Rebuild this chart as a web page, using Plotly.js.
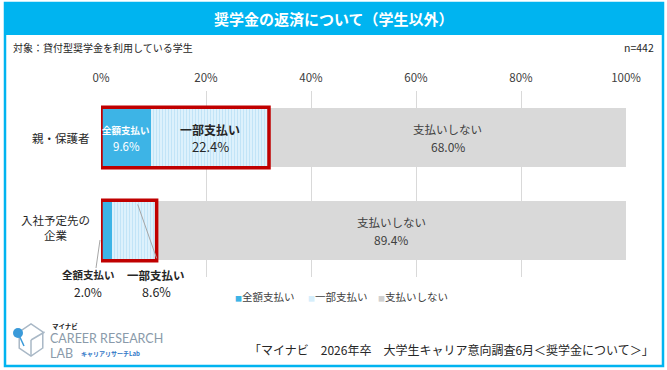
<!DOCTYPE html>
<html>
<head>
<meta charset="utf-8">
<script src="https://cdn.plot.ly/plotly-3.0.1.min.js"></script>
<style>
html,body{margin:0;padding:0;background:#fff;}
#chart{width:667px;height:370px;}
</style>
</head>
<body>
<div id="chart"></div>
<script>
// ---- data ----
const categories = ["親・保護者", "入社予定先の<br>企業"];
const seriesNames = ["全額支払い", "一部支払い", "支払いしない"];
const fullPay = [9.6, 2.0];
const partialPay = [22.4, 8.6];
const noPay = [68.0, 89.4];
const tickVals = [0, 20, 40, 60, 80, 100];
const tickLabels = ["0%", "20%", "40%", "60%", "80%", "100%"];
const titleText = "奨学金の返済について（学生以外）";
const subtitleText = "対象：貸付型奨学金を利用している学生";
const nText = "n=442";
const sourceText = "「マイナビ　2026年卒　大学生キャリア意向調査6月＜奨学金について＞」";

// ---- layout geometry ----
const W = 667, H = 370;
const M = {l: 101, r: 41, t: 91, b: 93};
const PW = W - M.l - M.r, PH = H - M.t - M.b;
const px = v => (v - M.l) / PW;          // pixel -> paper x
const py = v => (H - M.b - v) / PH;      // pixel -> paper y
const FONT = "'Noto Sans CJK JP', 'Noto Sans', sans-serif";
const BAR_W = 0.63;
const yIdx = categories.map((c, i) => i);

const C_FULL = "#3DB4E6", C_PART = "#DDF1FC", C_PART_LINE = "#B9E0F5", C_NO = "#D9D9D9";
const CYAN = "#00B4F0";

const traces = [
  {type: "bar", orientation: "h", name: seriesNames[0], x: fullPay, y: yIdx, width: BAR_W,
   marker: {color: C_FULL, line: {width: 0}}, hoverinfo: "x+name", showlegend: false},
  {type: "bar", orientation: "h", name: seriesNames[1], x: partialPay, y: yIdx, width: BAR_W,
   marker: {color: C_PART, line: {width: 0},
            pattern: {shape: "|", bgcolor: C_PART, fgcolor: C_PART_LINE, size: 3, solidity: 0.25, fillmode: "replace"}},
   hoverinfo: "x+name", showlegend: false},
  {type: "bar", orientation: "h", name: seriesNames[2], x: noPay, y: yIdx, width: BAR_W,
   marker: {color: C_NO, line: {width: 0}}, hoverinfo: "x+name", showlegend: false}
];

const annotations = [];
const shapes = [];

// frame and title band
shapes.push({type: "rect", xref: "paper", yref: "paper", x0: px(5), x1: px(663), y0: py(3), y1: py(366),
  line: {color: CYAN, width: 2.5}, fillcolor: "rgba(0,0,0,0)", layer: "below"});
shapes.push({type: "rect", xref: "paper", yref: "paper", x0: px(5), x1: px(663), y0: py(3), y1: py(35),
  line: {width: 0}, fillcolor: CYAN, layer: "below"});
annotations.push({xref: "paper", yref: "paper", x: px(334), y: py(19), text: "<b>" + titleText + "</b>",
  showarrow: false, font: {family: FONT, size: 15, color: "#ffffff"}, xanchor: "center", yanchor: "middle"});
annotations.push({xref: "paper", yref: "paper", x: px(11), y: py(47), text: subtitleText,
  showarrow: false, font: {family: FONT, size: 10, color: "#262626"}, xanchor: "left", yanchor: "middle"});
annotations.push({xref: "paper", yref: "paper", x: px(656), y: py(47), text: nText,
  showarrow: false, font: {family: FONT, size: 10.5, color: "#262626"}, xanchor: "right", yanchor: "middle"});

// category labels
annotations.push({xref: "paper", yref: "y", x: px(92), y: yIdx[0], text: categories[0],
  showarrow: false, font: {family: FONT, size: 11.5, color: "#262626"}, xanchor: "right", yanchor: "middle"});
annotations.push({xref: "paper", yref: "y", x: px(55), y: yIdx[1] - 0.03, text: categories[1], align: "center",
  showarrow: false, font: {family: FONT, size: 11.5, color: "#262626"}, xanchor: "center", yanchor: "middle"});

// red highlight boxes around full+partial segments
yIdx.forEach((yi, i) => {
  shapes.push({type: "rect", xref: "x", yref: "y", x0: 0, x1: fullPay[i] + partialPay[i],
    y0: yi - BAR_W / 2 - 0.01, y1: yi + BAR_W / 2 + 0.01, line: {color: "#C00000", width: 3.5}, layer: "above"});
});

const pct = v => v.toFixed(1) + "%";
// two-line label helper (each line its own annotation)
function label2(x, y, xref, yref, l1, l2, s1, s2, color, gap) {
  annotations.push({x: x, y: y, xref: xref, yref: yref, showarrow: false, text: l1, yshift: gap,
    font: {family: FONT, size: s1, color: color}, xanchor: "center", yanchor: "middle"});
  annotations.push({x: x, y: y, xref: xref, yref: yref, showarrow: false, text: l2, yshift: -gap,
    font: {family: FONT, size: s2, color: color}, xanchor: "center", yanchor: "middle"});
}
// row 0 (inside bar)
label2(fullPay[0] / 2, yIdx[0], "x", "y", "<b>" + seriesNames[0] + "</b>", pct(fullPay[0]), 9.5, 11.5, "#ffffff", 8);
label2(fullPay[0] + partialPay[0] / 2, yIdx[0], "x", "y", "<b>" + seriesNames[1] + "</b>", pct(partialPay[0]), 12, 13, "#262626", 8.5);
label2(fullPay[0] + partialPay[0] + noPay[0] / 2, yIdx[0], "x", "y", seriesNames[2], pct(noPay[0]), 11.5, 12, "#404040", 8.5);
// row 1
label2(fullPay[1] + partialPay[1] + noPay[1] / 2, yIdx[1], "x", "y", seriesNames[2], pct(noPay[1]), 11.5, 12, "#404040", 8.5);
// row 1 labels below the bar
label2(px(88), py(283), "paper", "paper", "<b>" + seriesNames[0] + "</b>", pct(fullPay[1]), 10.5, 12, "#262626", 8.5);
label2(px(156), py(283), "paper", "paper", "<b>" + seriesNames[1] + "</b>", pct(partialPay[1]), 11.5, 12.5, "#262626", 8.5);
// leader lines
shapes.push({type: "line", xref: "paper", yref: "paper", x0: px(100), y0: py(240), x1: px(96), y1: py(268),
  line: {color: "#A6A6A6", width: 1}, layer: "above"});
shapes.push({type: "line", xref: "x", yref: "y", x0: fullPay[1] + partialPay[1] * 0.58, y0: yIdx[1] - 0.28,
  x1: fullPay[1] + partialPay[1], y1: yIdx[1] + 0.3, line: {color: "#A6A6A6", width: 1}, layer: "above"});

// legend (custom)
const legColors = [C_FULL, "#D6EEFB", "#D0D0D0"];
const legX = [233, 306, 376];
seriesNames.forEach((n, i) => {
  annotations.push({xref: "paper", yref: "paper", x: px(legX[i]), y: py(296), xanchor: "left", yanchor: "middle",
    showarrow: false, text: "<span style='color:" + legColors[i] + ";font-size:7px'>■</span>" + n,
    font: {family: FONT, size: 10.5, color: "#404040"}});
});

// source
annotations.push({xref: "paper", yref: "paper", x: px(656), y: py(349), xanchor: "right", yanchor: "middle",
  showarrow: false, text: sourceText, font: {family: FONT, size: 12, color: "#262626"}});

// logo (decorative)
const hx = 31, hy = 340, hr = 16;
const hex = [];
for (let k = 0; k < 6; k++) {
  const a = Math.PI / 6 + k * Math.PI / 3;
  hex.push([px(hx + hr * Math.cos(a) * 0.85), py(hy + hr * Math.sin(a))]);
}
shapes.push({type: "path", xref: "paper", yref: "paper",
  path: "M" + hex.map(p => p[0] + "," + p[1]).join(" L") + " Z",
  line: {color: "#A9B8C6", width: 1.5}, fillcolor: "rgba(0,0,0,0)"});
shapes.push({type: "line", xref: "paper", yref: "paper", x0: px(hx), y0: py(hy), x1: px(hx), y1: py(hy + hr),
  line: {color: "#A9B8C6", width: 1.5}});
shapes.push({type: "line", xref: "paper", yref: "paper", x0: px(hx), y0: py(hy), x1: px(hx + hr * 0.85), y1: py(hy - hr / 2),
  line: {color: "#A9B8C6", width: 1.5}});
shapes.push({type: "line", xref: "paper", yref: "paper", x0: px(18), y0: py(333), x1: px(24), y1: py(346),
  line: {color: "#3A9AD9", width: 1.5}});
shapes.push({type: "circle", xref: "paper", yref: "paper", x0: px(13), x1: px(23), y0: py(328), y1: py(338),
  fillcolor: "#3A9AD9", line: {width: 0}});
annotations.push({xref: "paper", yref: "paper", x: px(50), y: py(326), xanchor: "left", yanchor: "middle", showarrow: false,
  text: "<b>マイナビ</b>", font: {family: FONT, size: 6.5, color: "#222"}});
annotations.push({xref: "paper", yref: "paper", x: px(48), y: py(338), xanchor: "left", yanchor: "middle", showarrow: false,
  text: "CAREER RESEARCH", font: {family: "'Lato', 'Noto Sans', sans-serif", size: 12.5, color: "#8A9AAA"}});
annotations.push({xref: "paper", yref: "paper", x: px(48), y: py(353), xanchor: "left", yanchor: "middle", showarrow: false,
  text: "LAB", font: {family: "'Lato', 'Noto Sans', sans-serif", size: 12.5, color: "#8A9AAA"}});
annotations.push({xref: "paper", yref: "paper", x: px(79), y: py(353), xanchor: "left", yanchor: "middle", showarrow: false,
  text: "<b>キャリアリサーチLab</b>", font: {family: FONT, size: 6, color: "#2E75C6"}});

const layout = {
  width: W, height: H,
  margin: M,
  paper_bgcolor: "#ffffff", plot_bgcolor: "#ffffff",
  barmode: "stack",
  showlegend: false,
  xaxis: {range: [0, 100], side: "top", tickvals: tickVals, ticktext: tickLabels,
    showgrid: true, gridcolor: "#D9D9D9", gridwidth: 1, zeroline: false, showline: false,
    ticks: "", ticklabelstandoff: 6, tickfont: {family: FONT, size: 11.5, color: "#404040"}, fixedrange: true},
  yaxis: {range: [1.5, -0.5], showgrid: false, zeroline: false, showticklabels: false, ticks: "", fixedrange: true},
  font: {family: FONT},
  shapes: shapes,
  annotations: annotations
};

Plotly.newPlot("chart", traces, layout, {displayModeBar: false, staticPlot: true});
</script>
</body>
</html>
